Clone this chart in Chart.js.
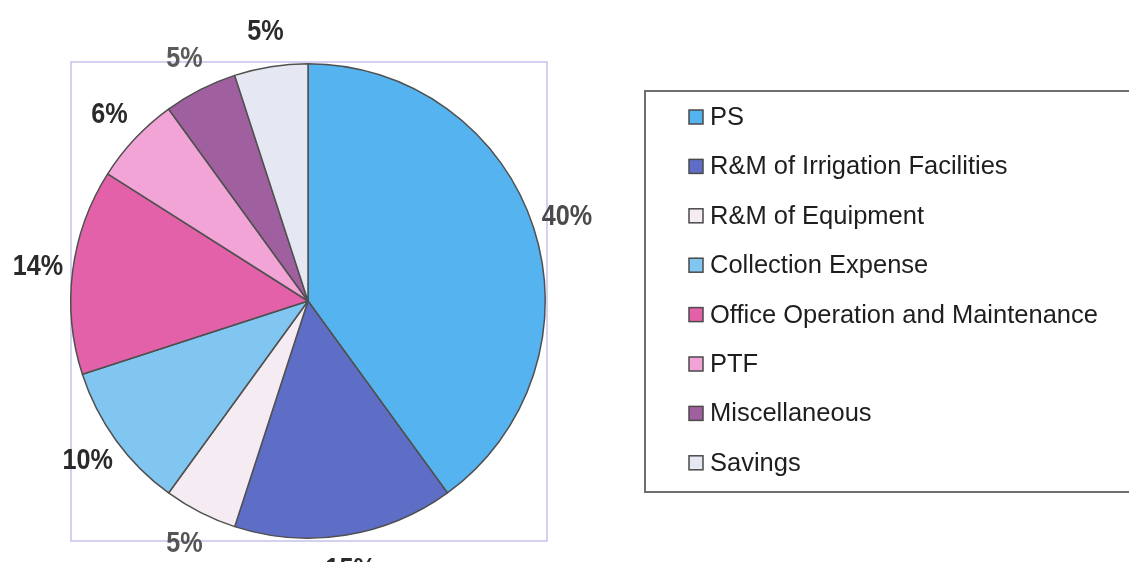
<!DOCTYPE html>
<html>
<head>
<meta charset="utf-8">
<script src="https://cdn.jsdelivr.net/npm/chart.js@4.4.0/dist/chart.umd.min.js"></script>
<style>
    body { margin: 0; background: #fff; }
    #wrap { width: 1129px; height: 562px; position: relative; }
</style>
</head>
<body>
<div id="wrap"><canvas id="mychart-pie" width="1129" height="562"></canvas></div>
<script>
// dati del grafico (percentuali)
var categorie = ['PS', 'R&M of Irrigation Facilities', 'R&M of Equipment', 'Collection Expense',
    'Office Operation and Maintenance', 'PTF', 'Miscellaneous', 'Savings'];
var valori = [40, 15, 5, 10, 14, 6, 5, 5];
var etichette = ['40%', '15%', '5%', '10%', '14%', '6%', '5%', '5%'];
var colori = ['#55b3ef', '#5e6ec6', '#f4ebf3', '#80c6f1', '#e361a8', '#f2a4d7', '#a0609f', '#e5e8f3'];
var coloriEtichette = ['#4a4a4a', '#2a2a2a', '#555555', '#2a2a2a', '#2a2a2a', '#2a2a2a', '#5a5a5a', '#2a2a2a'];

// cornice dell'area del grafico
var cornice = {
    id: 'cornice',
    beforeDraw: function (chart) {
        var ctx = chart.ctx;
        var a = chart.chartArea;
        ctx.save();
        ctx.strokeStyle = '#c4c2ec';
        ctx.lineWidth = 1.5;
        ctx.strokeRect(a.left + 1, a.top - 1, a.right - a.left, a.bottom - a.top + 3);
        ctx.restore();
    }
};

// percentuali fuori dalle fette (font "stretto" simulato con scale)
var percentuali = {
    id: 'percentuali',
    afterDatasetsDraw: function (chart) {
        var ctx = chart.ctx;
        var meta = chart.getDatasetMeta(0);
        for (var i = 0; i < meta.data.length; i++) {
            var p = meta.data[i].getProps(['x', 'y', 'startAngle', 'endAngle', 'outerRadius']);
            var medio = (p.startAngle + p.endAngle) / 2;
            var d = p.outerRadius + 35;
            ctx.save();
            ctx.translate(p.x + Math.cos(medio) * d, p.y + Math.sin(medio) * d);
            ctx.scale(0.84, 1);
            ctx.font = 'bold 30px "Liberation Sans", Arial, sans-serif';
            ctx.textAlign = 'center';
            ctx.textBaseline = 'middle';
            ctx.fillStyle = coloriEtichette[i];
            ctx.fillText(etichette[i], 0, 0);
            ctx.restore();
        }
    }
};

// legenda disegnata a mano nel riquadro a destra
var legenda = {
    id: 'legenda',
    afterDraw: function (chart) {
        var ctx = chart.ctx;
        ctx.save();
        ctx.strokeStyle = '#6e6e6e';
        ctx.lineWidth = 2;
        ctx.strokeRect(645, 91, 500, 401);
        ctx.font = '25.5px "Liberation Sans", Arial, sans-serif';
        ctx.textBaseline = 'middle';
        ctx.textAlign = 'left';
        for (var i = 0; i < categorie.length; i++) {
            var y = 117 + i * 49.4;
            ctx.fillStyle = colori[i];
            ctx.fillRect(689, y - 7, 14, 14);
            ctx.strokeStyle = '#4a4a4a';
            ctx.lineWidth = 1.5;
            ctx.strokeRect(689, y - 7, 14, 14);
            ctx.fillStyle = '#1e1e1e';
            ctx.fillText(categorie[i], 710, y + 1);
        }
        ctx.restore();
    }
};

var ctx = document.getElementById('mychart-pie').getContext('2d');
var chart = new Chart(ctx, {
    type: 'pie',
    data: {
        labels: categorie,
        datasets: [{
            data: valori,
            backgroundColor: colori,
            borderColor: '#505050',
            borderWidth: 1.5
        }]
    },
    options: {
        responsive: false,
        animation: false,
        layout: {
            padding: { left: 70, right: 583, top: 63, bottom: 23 }
        },
        plugins: {
            legend: { display: false },
            tooltip: { enabled: false }
        }
    },
    plugins: [cornice, percentuali, legenda]
});
</script>
</body>
</html>
